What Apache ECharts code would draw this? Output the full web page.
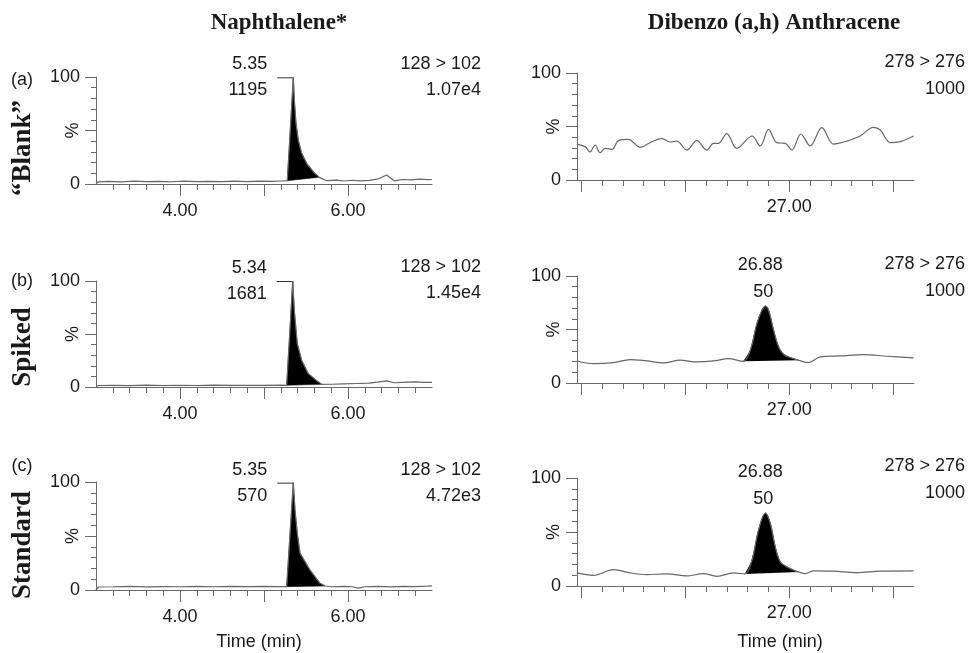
<!DOCTYPE html>
<html><head><meta charset="utf-8">
<script src="https://cdn.jsdelivr.net/npm/echarts@6/dist/echarts.min.js"></script>
<style>html,body{margin:0;padding:0;background:#fff}#c{width:968px;height:653px}</style>
</head><body><div id="c"></div>
<script>
// ---------- DATA ----------
// Naphthalene (left column), time (min) / intensity (%)
const naphA_t = [3.00,3.03,3.15,3.30,3.45,3.60,3.75,3.90,4.05,4.20,4.35,4.50,4.65,4.80,4.95,5.10,5.20,5.277,5.313,5.349,5.361,5.381,5.408,5.449,5.508,5.587,5.658,5.746,5.865,5.95,6.05,6.15,6.25,6.35,6.46,6.55,6.65,6.75,6.85,6.95,7.00];
const naphA_v = [0.5,2.0,2.4,2.0,2.6,2.2,2.5,2.1,2.6,2.2,2.5,2.3,2.7,2.3,2.6,2.4,2.8,3.1,50.5,99.7,78.5,56.7,41.0,28.7,19.3,11.5,6.2,3.1,3.7,2.8,3.5,3.0,3.4,4.5,8.4,3.0,4.2,3.8,4.5,4.0,4.2];
const naphA_peak = [5.277, 5.658];

const naphB_t = [3.00,3.03,3.20,3.40,3.60,3.80,4.00,4.20,4.40,4.60,4.80,5.00,5.20,5.270,5.306,5.342,5.361,5.396,5.449,5.527,5.627,5.687,5.80,5.95,6.10,6.25,6.35,6.46,6.55,6.65,6.80,6.90,7.00];
const naphB_v = [0.3,1.4,1.6,1.3,1.7,1.4,1.6,1.4,1.7,1.5,1.6,1.5,1.8,1.6,50,100,72,41,25,12.6,6,2.5,2.6,3.0,3.3,3.6,4.6,5.8,4.0,4.4,4.8,4.4,4.3];
const naphB_peak = [5.270, 5.687];

const naphC_t = [3.00,3.03,3.20,3.40,3.60,3.80,4.00,4.20,4.40,4.60,4.80,5.00,5.20,5.270,5.310,5.349,5.369,5.396,5.429,5.468,5.500,5.548,5.607,5.667,5.726,5.80,5.95,6.05,6.12,6.20,6.35,6.50,6.65,6.80,6.95,7.00];
const naphC_v = [0,2.8,3.0,3.3,2.9,3.2,3.0,3.4,3.0,3.3,3.1,3.4,3.2,3.1,52,99.4,74,52.5,34,29,24.7,18.5,12.3,6.2,3.7,3.0,3.3,3.0,1.8,3.0,3.3,2.9,3.4,3.2,3.6,3.8];
const naphC_peak = [5.270, 5.726];

// Dibenzo(a,h)anthracene (right column)
const dbaA_t = [25.979,26.019,26.043,26.067,26.091,26.115,26.148,26.179,26.227,26.284,26.340,26.388,26.428,26.460,26.508,26.556,26.604,26.636,26.660,26.700,26.748,26.821,26.861,26.901,26.941,26.981,27.013,27.056,27.101,27.157,27.213,27.277,27.341,27.405,27.438,27.486,27.534,27.598];
const dbaA_v = [33.6,31.2,26.2,32.7,25.5,29.6,28.7,36.8,38.0,30.5,35.8,38.6,35.5,36.4,28.0,36.8,28.0,34.3,34.3,43.3,29.6,41.1,31.8,47.4,34.9,34.3,28.0,43.0,31.8,48.9,33.6,36.4,41.1,49.2,46.7,34.9,35.8,41.1];

const dbaB_t = [25.979,26.059,26.155,26.236,26.316,26.396,26.476,26.556,26.636,26.708,26.780,26.813,26.845,26.869,26.885,26.901,26.925,26.949,26.973,27.005,27.045,27.093,27.149,27.245,27.357,27.470,27.598];
const dbaB_v = [20.6,18.1,19.0,21.9,20.6,18.8,21.3,19.7,20.6,22.8,20.3,30.6,55.6,68.0,71.9,68.0,49.4,33.8,26.9,23.8,21.3,19.0,24.4,25.3,26.6,25.0,23.4];
const dbaB_peak = [26.780, 27.045];

const dbaC_t = [25.979,26.059,26.155,26.236,26.316,26.412,26.508,26.588,26.652,26.732,26.788,26.821,26.853,26.885,26.909,26.933,26.957,26.989,27.029,27.045,27.077,27.117,27.213,27.325,27.438,27.598];
const dbaC_v = [12.1,9.9,15.2,12.1,10.6,11.2,9.3,11.5,9.0,12.1,11.2,23.9,51.9,67.4,58.1,36.3,22.4,17.7,14.0,13.0,11.5,14.0,13.7,12.4,13.7,14.0];
const dbaC_peak = [26.788, 27.045];

// Axis ticks / labels
const naphRange = [3, 7];
const naphTicksMajor = [4, 5, 6];
const naphTicksMinor = [3.2,3.4,3.6,3.8,4.2,4.4,4.6,4.8,5.2,5.4,5.6,5.8,6.2,6.4,6.6,6.8];
const naphTickLabels = [4, 6];
const dbaRange = [25.98, 27.60];
const dbaTicksMajor = [26.0, 26.5, 27.0, 27.5];
const dbaTicksMinor = [26.1,26.2,26.3,26.4,26.6,26.7,26.8,26.9,27.1,27.2,27.3,27.4];
const dbaTickLabels = [27.0];

// Annotation texts
const naphRT = ['5.35', '5.34', '5.35'];
const naphArea = ['1195', '1681', '570'];
const naphMRM = '128 > 102';
const naphMax = ['1.07e4', '1.45e4', '4.72e3'];
const dbaRT = [null, '26.88', '26.88'];
const dbaArea = [null, '50', '50'];
const dbaMRM = '278 > 276';
const dbaMax = ['1000', '1000', '1000'];
const rowTags = ['(a)', '(b)', '(c)'];
const rowNames = ['\u201CBlank\u201D', 'Spiked', 'Standard'];
const colTitles = ['Naphthalene*', 'Dibenzo (a,h) Anthracene'];
const xTitle = 'Time (min)';

// ---------- LAYOUT ----------
const SANS = '"Liberation Sans", Arial, Helvetica, sans-serif';
const SERIF = '"Liberation Serif", "Times New Roman", serif';
const TXT = '#1a1a1a';
const AX = '#6a6a6a';
const leftGrids = [{top:77,h:107},{top:281,h:106},{top:482,h:108}];
const rightGrids = [{top:73,h:107},{top:276,h:107},{top:478,h:108}];

const panels = [
  {col:0,row:0,t:naphA_t,v:naphA_v,peak:naphA_peak},
  {col:0,row:1,t:naphB_t,v:naphB_v,peak:naphB_peak},
  {col:0,row:2,t:naphC_t,v:naphC_v,peak:naphC_peak},
  {col:1,row:0,t:dbaA_t,v:dbaA_v,peak:null},
  {col:1,row:1,t:dbaB_t,v:dbaB_v,peak:dbaB_peak},
  {col:1,row:2,t:dbaC_t,v:dbaC_v,peak:dbaC_peak}
];

const grid = [], xAxis = [], yAxis = [], series = [];
panels.forEach((p, i) => {
  const g = p.col === 0 ? leftGrids[p.row] : rightGrids[p.row];
  grid.push({left: p.col === 0 ? 96 : 577, width: p.col === 0 ? 336 : 337, top: g.top, height: g.h});
  const rng = p.col === 0 ? naphRange : dbaRange;
  const maj = p.col === 0 ? naphTicksMajor : dbaTicksMajor;
  const mnr = p.col === 0 ? naphTicksMinor : dbaTicksMinor;
  const lab = p.col === 0 ? naphTickLabels : dbaTickLabels;
  xAxis.push({
    type:'value', gridIndex:i, position:'bottom', min:rng[0], max:rng[1],
    axisLine:{show:true, lineStyle:{color:AX, width:1}},
    axisTick:{show:true, customValues:maj, length:12, lineStyle:{color:AX}},
    axisLabel:{show:true, customValues:lab, margin:18, color:TXT, fontFamily:SANS, fontSize:18,
      formatter:(v)=>Number(v).toFixed(2)},
    splitLine:{show:false}
  });
  xAxis.push({
    type:'value', gridIndex:i, position:'bottom', min:rng[0], max:rng[1],
    axisLine:{show:false},
    axisTick:{show:true, customValues:mnr, length:6, lineStyle:{color:AX}},
    axisLabel:{show:false}, splitLine:{show:false}
  });
  yAxis.push({
    type:'value', gridIndex:i, min:0, max:100, interval:50,
    axisLine:{show:true, lineStyle:{color:AX, width:1}},
    axisTick:{show:true, length:11, lineStyle:{color:AX}},
    minorTick:{show:true, splitNumber:5, length:5, lineStyle:{color:AX}},
    axisLabel:{margin:16, color:TXT, fontFamily:SANS, fontSize:18,
      formatter:(v)=> v===50 ? '' : String(v)},
    name:'%', nameLocation:'middle', nameRotate:90, nameGap:14, nameMoveOverlap:false,
    nameTextStyle:{color:TXT, fontFamily:SANS, fontSize:18},
    splitLine:{show:false}
  });
  const smoothAmt = p.col === 0 ? 0 : 0.35;
  // peak fill + annotations
  if (p.peak) {
    const rt = p.col === 0 ? naphRT[p.row] : dbaRT[p.row];
    const ar = p.col === 0 ? naphArea[p.row] : dbaArea[p.row];
    let ai = -1;
    for (let k = 0; k < p.t.length; k++) {
      if (p.t[k] >= p.peak[0] - 1e-9 && p.t[k] <= p.peak[1] + 1e-9 && (ai < 0 || p.v[k] > p.v[ai])) ai = k;
    }
    series.push({
      type:'custom', xAxisIndex:2*i, yAxisIndex:i, z:1, silent:true,
      data:[[p.t[ai], p.v[ai]]],
      renderItem:function(params, api){
        const pts = [];
        for (let k = 0; k < p.t.length; k++) {
          if (p.t[k] >= p.peak[0] - 1e-9 && p.t[k] <= p.peak[1] + 1e-9) pts.push(api.coord([p.t[k], p.v[k]]));
        }
        const apex = api.coord([p.t[ai], p.v[ai]]);
        const ch = [];
        if (p.col === 0) {
          ch.push({type:'polygon', shape:{points:pts}, style:{fill:'#000', stroke:'#000', lineWidth:0.5}});
          ch.push({type:'polyline', shape:{points:[[apex[0]-16, apex[1]+0.5],[apex[0], apex[1]+0.5],[apex[0], apex[1]+5]]}, style:{stroke:'#333', lineWidth:1, fill:null}});
          ch.push({type:'text', style:{text:rt, x:apex[0]-26, y:apex[1]-13, align:'right', verticalAlign:'middle', font:'18px '+SANS, fill:TXT}});
          ch.push({type:'text', style:{text:ar, x:apex[0]-26, y:apex[1]+13, align:'right', verticalAlign:'middle', font:'18px '+SANS, fill:TXT}});
        } else {
          // smooth outline along the peak, closed by the straight drop-line baseline
          ch.push({type:'polyline', shape:{points:pts, smooth:0.35}, style:{fill:'#000', stroke:'#000', lineWidth:0.8}});
          ch.push({type:'text', style:{text:rt, x:apex[0]-5, y:apex[1]-41, align:'center', verticalAlign:'middle', font:'18px '+SANS, fill:TXT}});
          ch.push({type:'text', style:{text:ar, x:apex[0]-2, y:apex[1]-14, align:'center', verticalAlign:'middle', font:'18px '+SANS, fill:TXT}});
        }
        return {type:'group', children:ch};
      }
    });
  }
  series.push({
    type:'line', xAxisIndex:2*i, yAxisIndex:i, z:3, silent:true,
    data:p.t.map((t,k)=>[t, p.v[k]]),
    showSymbol:false, symbol:'none', smooth:smoothAmt,
    lineStyle:{color:'#666', width:1.2}
  });
});

// ---------- TEXT GRAPHICS ----------
const gtext = (text, x, y, opt) => Object.assign({type:'text', x:x, y:y,
  style:Object.assign({text:text, align:'center', verticalAlign:'middle', font:'18px '+SANS, fill:TXT}, opt.style||{})}, opt.el||{});
const graphic = [];
graphic.push(gtext(colTitles[0], 279, 23, {style:{font:'bold 23px '+SERIF}}));
graphic.push(gtext(colTitles[1], 774, 23, {style:{font:'bold 23px '+SERIF}}));
const rowNameY = [148, 347, 545];
const rowTagY = [80, 281, 466];
const naphMrmY = [64, 267, 470];
const dbaMrmY = [62, 264, 466];
for (let r = 0; r < 3; r++) {
  graphic.push(gtext(rowNames[r], 23, rowNameY[r], {style:{font:'bold 27px '+SERIF}, el:{rotation:Math.PI/2}}));
  graphic.push(gtext(rowTags[r], 22, rowTagY[r], {}));
  graphic.push(gtext(naphMRM, 481, naphMrmY[r], {style:{align:'right'}}));
  graphic.push(gtext(naphMax[r], 481, naphMrmY[r]+26, {style:{align:'right'}}));
  graphic.push(gtext(dbaMRM, 965, dbaMrmY[r], {style:{align:'right'}}));
  graphic.push(gtext(dbaMax[r], 965, dbaMrmY[r]+27, {style:{align:'right'}}));
}
graphic.push(gtext(xTitle, 259, 642, {}));
graphic.push(gtext(xTitle, 780, 642, {}));

const chart = echarts.init(document.getElementById('c'), null, {renderer:'canvas'});
chart.setOption({
  animation:false, backgroundColor:'#fff',
  grid:grid, xAxis:xAxis, yAxis:yAxis, series:series, graphic:graphic
});
</script></body></html>
